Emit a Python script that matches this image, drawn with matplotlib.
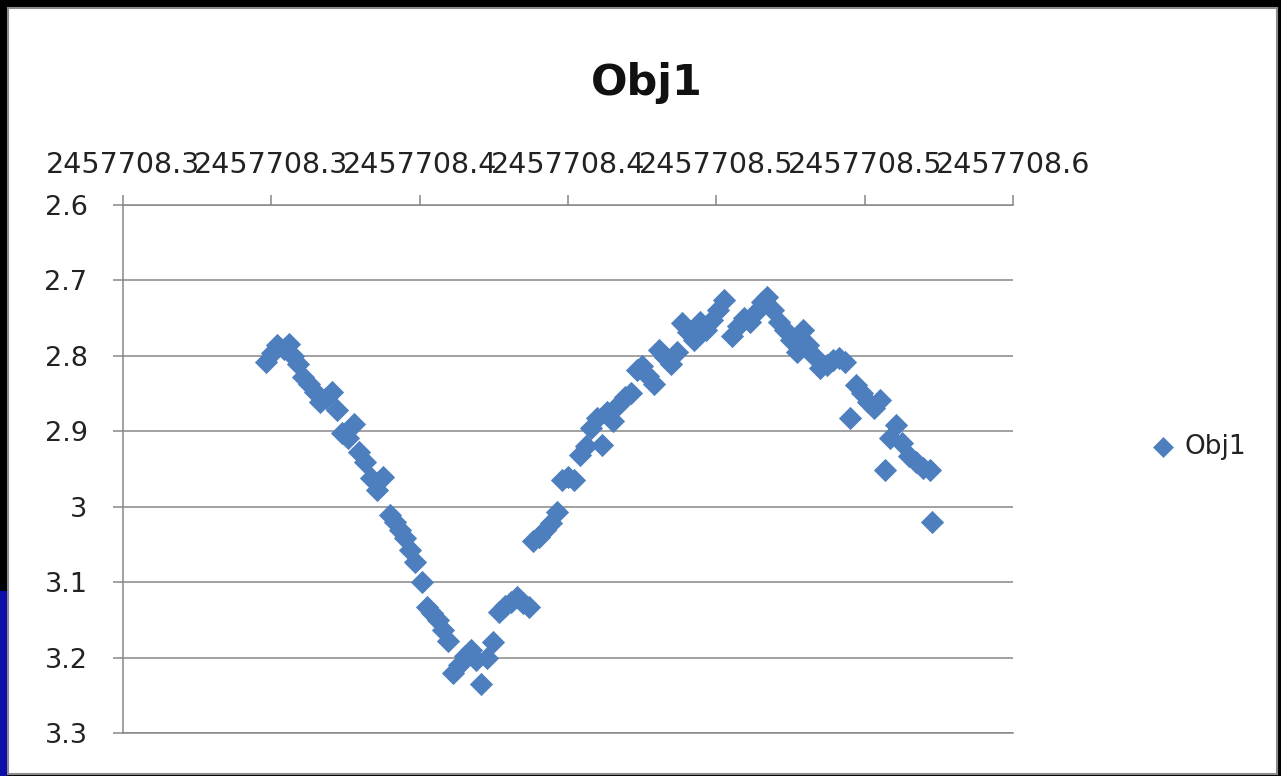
import matplotlib
matplotlib.use("Agg")
import matplotlib.pyplot as plt
from matplotlib.patches import Rectangle
from matplotlib.ticker import FixedLocator, FixedFormatter

plt.rcParams['font.family'] = ['DejaVu Sans']

title = "Obj1"
series_name = "Obj1"

jd = [2457708.3482, 2457708.3502, 2457708.3519, 2457708.3543, 2457708.3560, 2457708.3573,
      2457708.3590, 2457708.3607, 2457708.3627, 2457708.3647, 2457708.3664, 2457708.3684,
      2457708.3704, 2457708.3721, 2457708.3738, 2457708.3758, 2457708.3779, 2457708.3795,
      2457708.3816, 2457708.3836, 2457708.3856, 2457708.3876, 2457708.3900, 2457708.3917,
      2457708.3934, 2457708.3951, 2457708.3967, 2457708.3984, 2457708.4008, 2457708.4025,
      2457708.4042, 2457708.4062, 2457708.4079, 2457708.4095, 2457708.4112, 2457708.4133,
      2457708.4153, 2457708.4173, 2457708.4190, 2457708.4207, 2457708.4227, 2457708.4247,
      2457708.4267, 2457708.4288, 2457708.4308, 2457708.4328, 2457708.4348, 2457708.4369,
      2457708.4382, 2457708.4402, 2457708.4422, 2457708.4443, 2457708.4463, 2457708.4480,
      2457708.4500, 2457708.4520, 2457708.4540, 2457708.4561, 2457708.4578, 2457708.4598,
      2457708.4615, 2457708.4631, 2457708.4652, 2457708.4672, 2457708.4692, 2457708.4712,
      2457708.4733, 2457708.4749, 2457708.4770, 2457708.4790, 2457708.4807, 2457708.4827,
      2457708.4847, 2457708.4867, 2457708.4884, 2457708.4905, 2457708.4925, 2457708.4945,
      2457708.4965, 2457708.4985, 2457708.5006, 2457708.5026, 2457708.5053, 2457708.5073,
      2457708.5093, 2457708.5113, 2457708.5134, 2457708.5154, 2457708.5171, 2457708.5191,
      2457708.5211, 2457708.5231, 2457708.5252, 2457708.5272, 2457708.5292, 2457708.5309,
      2457708.5329, 2457708.5349, 2457708.5373, 2457708.5393, 2457708.5413, 2457708.5434,
      2457708.5451, 2457708.5471, 2457708.5491, 2457708.5511, 2457708.5531, 2457708.5552,
      2457708.5569, 2457708.5585, 2457708.5606, 2457708.5626, 2457708.5649, 2457708.5673,
      2457708.5697, 2457708.5720, 2457708.5727]

mag = [2.808, 2.796, 2.786, 2.791, 2.784, 2.800,
       2.811, 2.828, 2.837, 2.848, 2.861, 2.856,
       2.848, 2.872, 2.902, 2.909, 2.890, 2.927,
       2.941, 2.962, 2.978, 2.961, 3.011, 3.020,
       3.031, 3.041, 3.057, 3.073, 3.100, 3.133,
       3.141, 3.150, 3.163, 3.178, 3.220, 3.210,
       3.198, 3.190, 3.203, 3.235, 3.201, 3.179,
       3.140, 3.132, 3.126, 3.120, 3.128, 3.133,
       3.045, 3.040, 3.031, 3.022, 3.007, 2.965,
       2.961, 2.965, 2.931, 2.920, 2.896, 2.882,
       2.918, 2.874, 2.886, 2.864, 2.855, 2.849,
       2.819, 2.813, 2.827, 2.837, 2.792, 2.802,
       2.811, 2.795, 2.756, 2.768, 2.779, 2.755,
       2.766, 2.752, 2.739, 2.726, 2.774, 2.760,
       2.750, 2.755, 2.742, 2.729, 2.722, 2.739,
       2.755, 2.766, 2.779, 2.795, 2.766, 2.786,
       2.800, 2.816, 2.812, 2.806, 2.803, 2.808,
       2.882, 2.839, 2.849, 2.861, 2.869, 2.859,
       2.951, 2.909, 2.892, 2.916, 2.933, 2.941,
       2.949, 2.951, 3.020]

x_ticks = [2457708.30, 2457708.35, 2457708.40, 2457708.45, 2457708.50, 2457708.55, 2457708.60]
x_tick_labels = ["2457708.3", "2457708.3", "2457708.4", "2457708.4",
                 "2457708.5", "2457708.5", "2457708.6"]
y_ticks = [2.6, 2.7, 2.8, 2.9, 3.0, 3.1, 3.2, 3.3]
y_tick_labels = ["2.6", "2.7", "2.8", "2.9", "3", "3.1", "3.2", "3.3"]

W, H = 1281, 776
fig = plt.figure(figsize=(W / 100, H / 100), dpi=100, facecolor='black')

# chart area (white with grey border), plus the blue patch at bottom-left
fig.patches.append(Rectangle((8 / W, 2 / H), (1277 - 8) / W, (768 - 2) / H,
                             transform=fig.transFigure, facecolor='white',
                             edgecolor='#8c8c8c', linewidth=1.5, zorder=-10))
fig.patches.append(Rectangle((0, 0), 7 / W, 185 / H, transform=fig.transFigure,
                             facecolor='#0c10a8', edgecolor='none', zorder=-10))

grid_c = '#878787'
text_c = '#222222'

ax = fig.add_axes([123 / W, 43 / H, (1013 - 123) / W, (733 - 205) / H])
ax.set_zorder(1)
ax.set_facecolor('white')
ax.scatter(jd, mag, marker='D', s=140, color='#4d7fbe', linewidths=0,
           label=series_name, zorder=3, clip_on=False)

ax.set_xlim(x_ticks[0], x_ticks[-1])
ax.set_ylim(y_ticks[-1], y_ticks[0])

ax.xaxis.set_major_locator(FixedLocator(x_ticks))
ax.xaxis.set_major_formatter(FixedFormatter(x_tick_labels))
ax.yaxis.set_major_locator(FixedLocator(y_ticks))
ax.yaxis.set_major_formatter(FixedFormatter(y_tick_labels))

ax.xaxis.tick_top()
ax.tick_params(axis='x', direction='out', length=7.5, width=1.1, color=grid_c,
               labelsize=20.5, labelcolor=text_c, pad=11)
ax.tick_params(axis='y', direction='out', length=7.5, width=1.1, color=grid_c,
               labelsize=19.5, labelcolor=text_c, pad=18)

for side in ['right']:
    ax.spines[side].set_visible(False)
for side in ['left', 'top', 'bottom']:
    ax.spines[side].set_color(grid_c)
    ax.spines[side].set_linewidth(1.1)

ax.yaxis.grid(True, color=grid_c, linewidth=1.1)
ax.xaxis.grid(False)
ax.set_axisbelow(True)

fig.text(647 / W, 1 - 95 / H, title, ha='center', va='baseline',
         fontsize=31, fontweight='bold', color='#111111')

leg = ax.legend(loc='center left', bbox_to_anchor=(1150 / W, 1 - 447 / H),
                bbox_transform=fig.transFigure, frameon=False, fontsize=19,
                handlelength=1.0, handletextpad=0.3, borderpad=0, borderaxespad=0,
                markerscale=0.9)
for t in leg.get_texts():
    t.set_color(text_c)

fig.savefig('out.png', dpi=100, facecolor=fig.get_facecolor())
